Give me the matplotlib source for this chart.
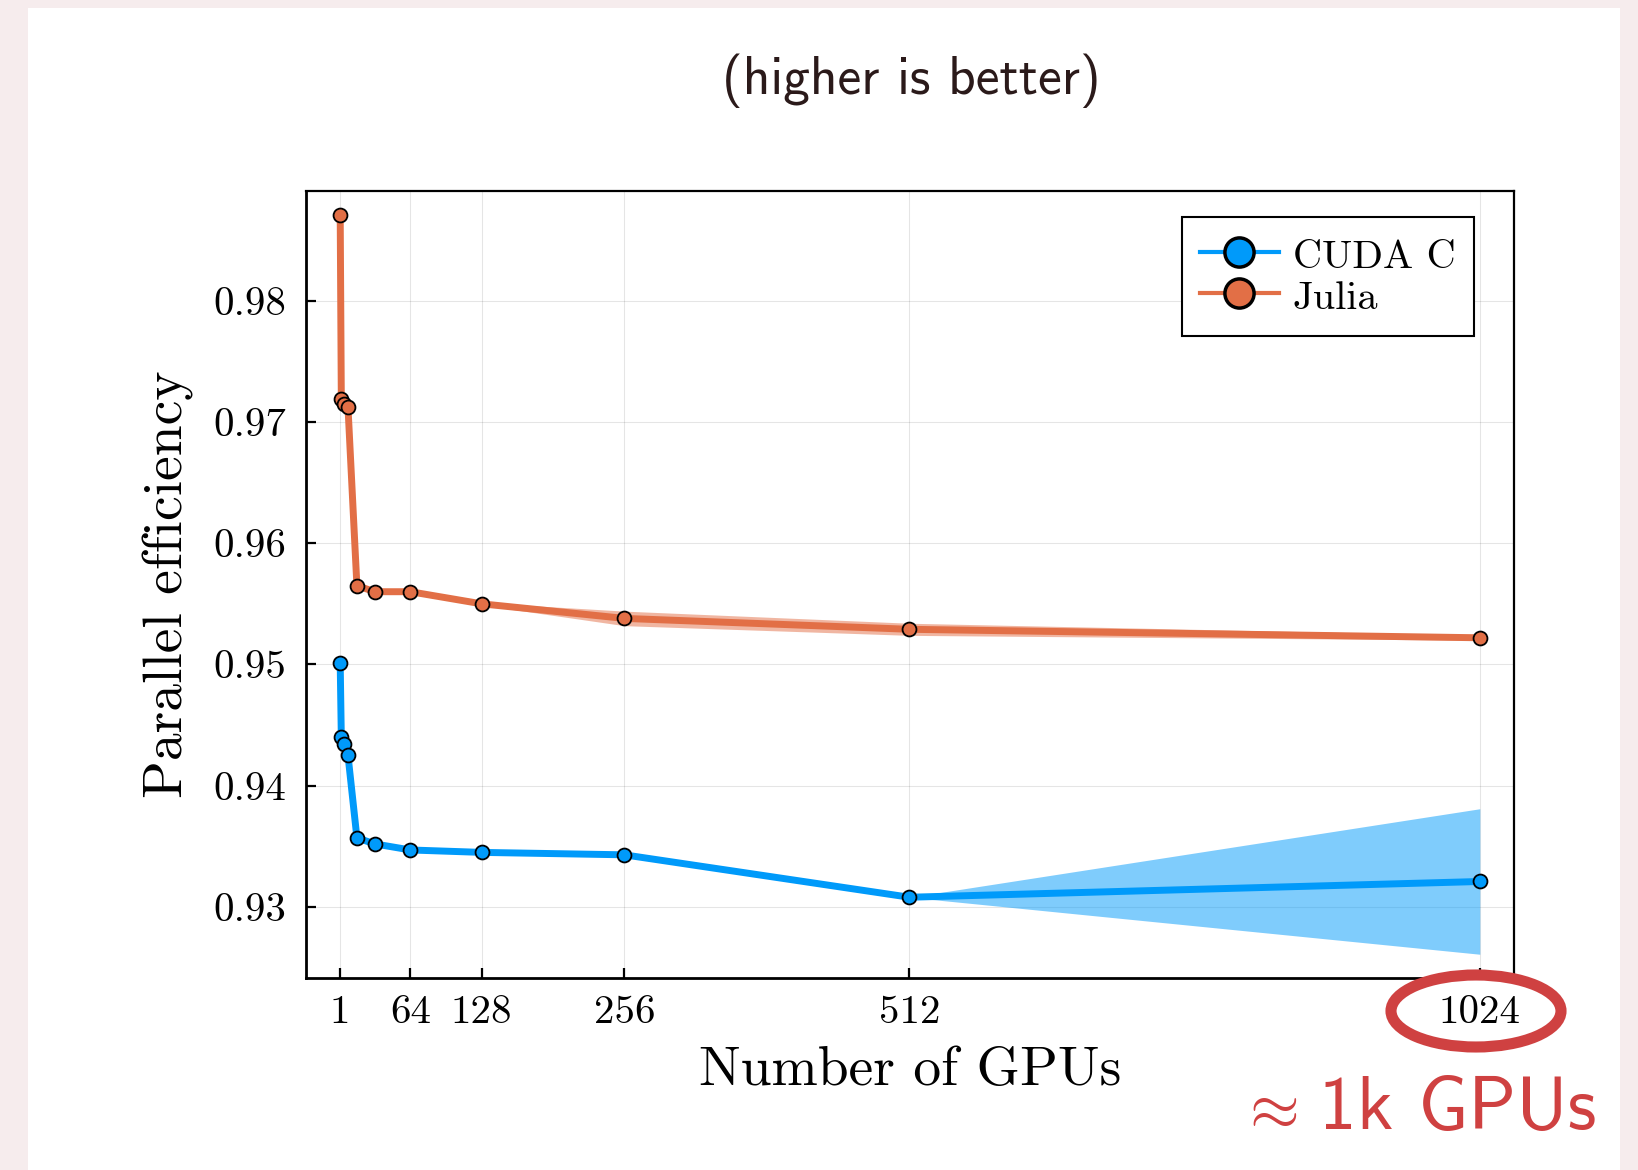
import matplotlib
matplotlib.use("Agg")
import matplotlib.pyplot as plt
from matplotlib.patches import Rectangle, Ellipse
from matplotlib.lines import Line2D
import numpy as np

plt.rcParams['mathtext.fontset'] = 'cm'
plt.rcParams['axes.unicode_minus'] = False

# ---- data ----
gpus = [1, 2, 4, 8, 16, 32, 64, 128, 256, 512, 1024]
cuda_eff = [0.9501, 0.9440, 0.9434, 0.9425, 0.9357, 0.9352, 0.9347, 0.9345, 0.9343, 0.9308, 0.9321]
cuda_err = [0, 0, 0, 0, 0, 0, 0, 0, 0, 0, 0.0060]
julia_eff = [0.9871, 0.9719, 0.9715, 0.9712, 0.9565, 0.9560, 0.9560, 0.9550, 0.9538, 0.9529, 0.9522]
julia_err = [0, 0, 0, 0, 0, 0, 0, 0.0001, 0.0006, 0.0005, 0.0002]
series_names = ["CUDA C", "Julia"]
xtick_vals = [1, 64, 128, 256, 512, 1024]
xtick_labels = ["1", "64", "128", "256", "512", "1024"]
ytick_vals = [0.93, 0.94, 0.95, 0.96, 0.97, 0.98]
ytick_labels = ["0.93", "0.94", "0.95", "0.96", "0.97", "0.98"]

BLUE = "#009AFA"
ORANGE = "#E26F46"
RED = "#CF4141"

W, H = 1638, 1170
fig = plt.figure(figsize=(W / 100, H / 100), dpi=100)
fig.patch.set_facecolor("#F6ECED")
# white slide panel
fig.patches.append(Rectangle((28 / W, 0), (1620 - 28) / W, (H - 8) / H,
                             transform=fig.transFigure, facecolor="white",
                             edgecolor="none", zorder=-10))

ax = fig.add_axes([306 / W, 1 - 978 / H, (1514 - 306) / W, (978 - 191) / H])
ax.set_zorder(1)
ax.set_facecolor("white")

x = np.array(gpus, dtype=float)
for vals, err, col, name in [(cuda_eff, cuda_err, BLUE, series_names[0]),
                             (julia_eff, julia_err, ORANGE, series_names[1])]:
    v = np.array(vals)
    e = np.array(err)
    ax.fill_between(x, v - e, v + e, color=col, alpha=0.5, lw=0, zorder=2)
    ax.plot(x, v, color=col, lw=5, zorder=3, solid_capstyle='round', solid_joinstyle='round')
    ax.plot(x, v, ls='none', marker='o', ms=10, mfc=col, mec='black', mew=1.3, zorder=4)

ax.set_xlim(-29.7, 1054.7)
ax.set_ylim(0.92414, 0.98905)
ax.set_xticks(xtick_vals)
ax.set_xticklabels(xtick_labels)
ax.set_yticks(ytick_vals)
ax.set_yticklabels(ytick_labels)

ax.grid(True, color='black', alpha=0.1, lw=0.8)
ax.set_axisbelow(True)
for s in ax.spines.values():
    s.set_linewidth(1.6)
    s.set_color('black')
for side in ('left', 'bottom'):
    ax.spines[side].set_linewidth(2.0)
ax.tick_params(direction='in', length=7, width=1.6, top=False, right=False,
               labelsize=29.5, pad=14)
ax.tick_params(axis='x', pad=12)
for lab in ax.get_xticklabels() + ax.get_yticklabels():
    lab.set_family('cmr10')

ax.set_xlabel("Number of GPUs", family='cmr10', fontsize=40)
ax.set_ylabel("Parallel efficiency", family='cmr10', fontsize=40)
ax.xaxis.set_label_coords(0.5, (978 - 1071) / (978 - 191))
ax.xaxis.label.set_va('center')
ax.yaxis.set_label_coords((168 - 306) / (1514 - 306), 0.5)
ax.yaxis.label.set_va('center')

handles = [Line2D([0], [0], color=BLUE, lw=3, marker='o', ms=21, mfc=BLUE, mec='black', mew=2.5),
           Line2D([0], [0], color=ORANGE, lw=3, marker='o', ms=21, mfc=ORANGE, mec='black', mew=2.5)]
leg = ax.legend(handles, series_names, loc='upper right',
                bbox_to_anchor=(1 - 40 / 1208, 1 - 26 / 787),
                prop={'family': 'cmr10', 'size': 29}, frameon=True, fancybox=False,
                edgecolor='black', framealpha=1, borderpad=0.46, labelspacing=0.0,
                handleheight=1.09, handlelength=1.95, handletextpad=0.35,
                borderaxespad=0.0)
leg.get_frame().set_linewidth(1.5)

# title
fig.text(911 / W, 1 - 81 / H, "(higher is better)", family='cmss10', fontsize=38.5,
         color="#2B1A1A", ha='center', va='center')

# ellipse around 1024 label
fig.patches.append(Ellipse((1476 / W, 1 - 1011 / H), 170 / W, 72 / H,
                           transform=fig.transFigure, facecolor='none',
                           edgecolor=RED, lw=8, zorder=5))
fig.text(1596 / W, 1 - 1110 / H, "1k GPUs", family='cmss10', fontsize=54,
         color=RED, ha='right', va='center')
fig.text(1297 / W, 1 - 1110 / H, r"$\approx$", fontsize=46,
         color=RED, ha='right', va='center')

fig.savefig("out.png", dpi=100, facecolor=fig.get_facecolor())
